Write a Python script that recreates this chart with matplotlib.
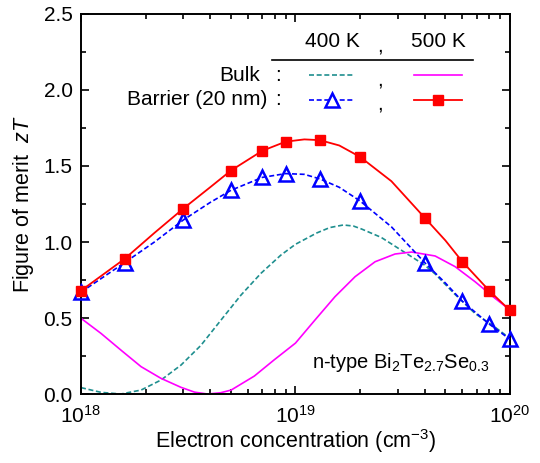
import numpy as np
import matplotlib
matplotlib.use("Agg")
import matplotlib.pyplot as plt
from matplotlib.ticker import LogLocator, MultipleLocator

plt.rcParams['font.family'] = ['Liberation Sans', 'DejaVu Sans']
plt.rcParams['mathtext.fontset'] = 'custom'
plt.rcParams['mathtext.rm'] = 'Liberation Sans'
plt.rcParams['mathtext.it'] = 'Liberation Sans:italic'
plt.rcParams['mathtext.default'] = 'regular'

# Barrier (20 nm), markers
barrier_n = [1e18, 1.6e18, 3e18, 5e18, 7e18, 9e18, 1.3e19, 2e19, 4e19, 6e19, 8e19, 1e20]
barrier_500K = [0.68, 0.89, 1.22, 1.47, 1.60, 1.66, 1.67, 1.56, 1.16, 0.87, 0.68, 0.55]
barrier_400K = [0.67, 0.865, 1.145, 1.34, 1.425, 1.45, 1.415, 1.27, 0.865, 0.61, 0.46, 0.36]

# Barrier (20 nm), smooth guide lines
barrier_line_n = [1e18, 1.6e18, 2.2e18, 3e18, 4e18, 5e18, 7e18, 9e18, 1.1e19, 1.3e19,
                  1.6e19, 2e19, 2.8e19, 4e19, 5e19, 6e19, 8e19, 1e20]
barrier_line_500K = [0.68, 0.89, 1.06, 1.22, 1.36, 1.47, 1.60, 1.66, 1.675, 1.67,
                     1.635, 1.56, 1.40, 1.16, 1.01, 0.87, 0.68, 0.55]
barrier_line_400K = [0.67, 0.865, 1.00, 1.145, 1.26, 1.34, 1.425, 1.45, 1.445, 1.415,
                     1.36, 1.27, 1.10, 0.865, 0.73, 0.61, 0.46, 0.36]

# Bulk curves (log10 of concentration, zT)
bulk400_logn = [18.0, 18.093, 18.186, 18.28, 18.373, 18.466, 18.559, 18.653, 18.746,
                18.839, 18.932, 19.0, 19.1, 19.16, 19.223, 19.27, 19.309, 19.4, 19.5,
                19.6, 19.651, 19.744, 19.837, 19.93, 20.0]
bulk400_zT = [0.042, 0.011, 0.0, 0.026, 0.092, 0.19, 0.32, 0.487, 0.651,
              0.794, 0.914, 0.985, 1.06, 1.095, 1.112, 1.105, 1.085, 1.03, 0.94,
              0.85, 0.79, 0.655, 0.53, 0.44, 0.366]
bulk500_logn = [18.0, 18.093, 18.186, 18.28, 18.373, 18.466, 18.53, 18.59, 18.65, 18.70,
                18.808, 18.90, 19.0, 19.091, 19.184, 19.278, 19.371, 19.464, 19.542,
                19.651, 19.744, 19.837, 19.93, 20.0]
bulk500_zT = [0.498, 0.399, 0.289, 0.18, 0.103, 0.044, 0.012, 0.0, 0.008, 0.026,
              0.118, 0.224, 0.335, 0.487, 0.64, 0.772, 0.87, 0.921, 0.934,
              0.908, 0.838, 0.739, 0.63, 0.553]

TEAL = '#1f8f8f'
MAG = '#ff00ff'
RED = '#ff0000'
BLUE = '#0000ff'
DASH = (0, (3, 1.6))

fig = plt.figure(figsize=(5.4, 4.63), dpi=100)
ax = fig.add_axes([0.15, 0.149, 0.7944, 0.8208])

ax.plot(10 ** np.array(bulk400_logn), bulk400_zT, color=TEAL, lw=1.2, ls=DASH)
ax.plot(10 ** np.array(bulk500_logn), bulk500_zT, color=MAG, lw=1.2, ls='-')
ax.plot(barrier_line_n, barrier_line_400K, color=BLUE, lw=1.2, ls=DASH, zorder=3)
ax.plot(barrier_n, barrier_400K, ls='none', marker='^', ms=10, mfc='none', mec=BLUE,
        mew=1.8, clip_on=False, zorder=4)
ax.plot(barrier_line_n, barrier_line_500K, color=RED, lw=1.3, ls='-', zorder=5)
ax.plot(barrier_n, barrier_500K, ls='none', marker='s', ms=7.5, mfc=RED, mec=RED,
        clip_on=False, zorder=6)

ax.set_xscale('log')
ax.set_xlim(1e18, 1e20)
ax.set_ylim(0, 2.5)
ax.yaxis.set_major_locator(MultipleLocator(0.5))
ax.yaxis.set_minor_locator(MultipleLocator(0.25))
ax.yaxis.set_major_formatter(matplotlib.ticker.FormatStrFormatter('%.1f'))
ax.xaxis.set_major_locator(LogLocator(base=10, numticks=5))
ax.xaxis.set_minor_locator(LogLocator(base=10, subs=np.arange(2, 10), numticks=20))
ax.xaxis.set_minor_formatter(matplotlib.ticker.NullFormatter())

ax.tick_params(which='both', direction='in', top=True, right=True, labelsize=15, width=1.2)
ax.tick_params(which='major', length=6)
ax.tick_params(axis='x', which='major', pad=8)
ax.tick_params(axis='y', which='major', pad=6)
ax.tick_params(which='minor', length=3.5)
for s in ax.spines.values():
    s.set_linewidth(1.4)

ax.set_xlabel('Electron concentration (cm$^{-3}$)', fontsize=15.5, labelpad=0)
ax.set_ylabel('Figure of merit  $\\mathit{zT}$', fontsize=15.5, labelpad=5)

# Legend table (positions in reference pixel space -> axes fraction)
def px(x, y):
    return ((x - 81) / 429.0, (394 - y) / 380.0)

fs = 15
T = ax.transAxes
ax.text(*px(332, 42), '400 K', transform=T, ha='center', va='center', fontsize=fs)
ax.text(*px(380, 46), ',', transform=T, ha='center', va='center', fontsize=fs)
ax.text(*px(438, 42), '500 K', transform=T, ha='center', va='center', fontsize=fs)
x0, y0 = px(272, 60)
x1, _ = px(473, 60)
ax.plot([x0, x1], [y0, y0], transform=T, color='black', lw=1.2, clip_on=False)

ax.text(*px(260, 76), 'Bulk', transform=T, ha='right', va='center', fontsize=fs)
ax.text(*px(278, 76), ':', transform=T, ha='center', va='center', fontsize=fs)
ax.text(*px(267, 100), 'Barrier (20 nm)', transform=T, ha='right', va='center', fontsize=fs)
ax.text(*px(278, 100), ':', transform=T, ha='center', va='center', fontsize=fs)
ax.text(*px(380, 80), ',', transform=T, ha='center', va='center', fontsize=fs)
ax.text(*px(380, 104), ',', transform=T, ha='center', va='center', fontsize=fs)

a, yb = px(309, 75)
b, _ = px(355, 75)
ax.plot([a, b], [yb, yb], transform=T, color=TEAL, lw=1.2, ls=DASH)
a, yb = px(414, 75)
b, _ = px(462, 75)
ax.plot([a, b], [yb, yb], transform=T, color=MAG, lw=1.2)
a, yb = px(309, 100)
b, _ = px(355, 100)
ax.plot([a, b], [yb, yb], transform=T, color=BLUE, lw=1.2, ls=DASH)
ax.plot([(a + b) / 2], [yb], transform=T, marker='^', ms=10, mfc='white', mec=BLUE, mew=1.8)
a, yb = px(414, 100)
b, _ = px(462, 100)
ax.plot([a, b], [yb, yb], transform=T, color=RED, lw=1.3)
ax.plot([(a + b) / 2], [yb], transform=T, marker='s', ms=7.5, color=RED)

ax.text(*px(490, 362), 'n-type Bi$_2$Te$_{2.7}$Se$_{0.3}$', transform=T,
        ha='right', va='center', fontsize=14.5)

fig.savefig('out.png', dpi=100)
